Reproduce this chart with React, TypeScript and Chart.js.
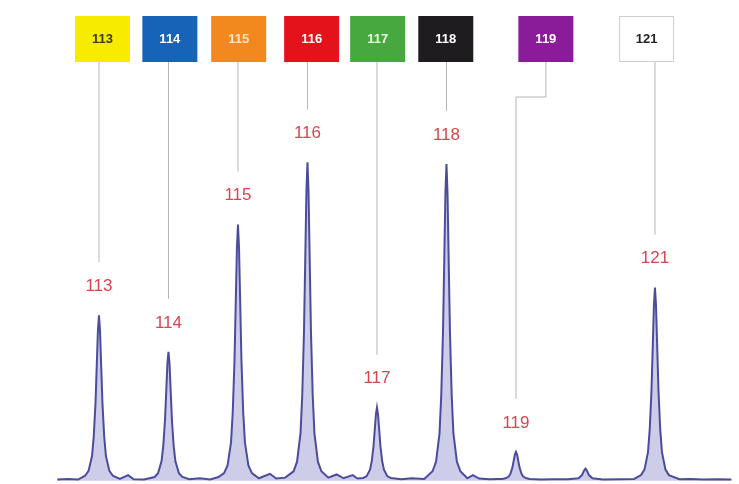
import React, { useEffect, useRef } from "react";
import { Chart, registerables } from "chart.js";

Chart.register(...registerables);

// Spectrum profile (m/z, relative intensity)
const mzValues = [
  112.4, 112.55, 112.7,
  112.8, 112.85, 112.9, 112.925, 112.95, 112.97, 112.985, 113, 113.015, 113.03, 113.05, 113.075, 113.1, 113.15, 113.2,
  113.3, 113.42, 113.5, 113.65,
  113.8, 113.85, 113.9, 113.925, 113.95, 113.97, 113.985, 114, 114.015, 114.03, 114.05, 114.075, 114.1, 114.15, 114.2,
  114.3, 114.45, 114.6, 114.72,
  114.8, 114.85, 114.9, 114.925, 114.95, 114.97, 114.985, 115, 115.015, 115.03, 115.05, 115.075, 115.1, 115.15, 115.2,
  115.3, 115.46, 115.55, 115.68,
  115.8, 115.85, 115.9, 115.925, 115.95, 115.97, 115.985, 116, 116.015, 116.03, 116.05, 116.075, 116.1, 116.15, 116.2,
  116.3, 116.42, 116.52, 116.65, 116.72,
  116.8, 116.85, 116.9, 116.925, 116.95, 116.97, 116.985, 117, 117.015, 117.03, 117.05, 117.075, 117.1, 117.15, 117.2,
  117.35, 117.5, 117.68,
  117.8, 117.85, 117.9, 117.925, 117.95, 117.97, 117.985, 118, 118.015, 118.03, 118.05, 118.075, 118.1, 118.15, 118.2,
  118.3, 118.38, 118.47, 118.62, 118.74,
  118.8, 118.85, 118.9, 118.925, 118.95, 118.97, 118.985, 119, 119.015, 119.03, 119.05, 119.075, 119.1, 119.15, 119.2,
  119.35, 119.55, 119.75,
  119.9, 119.95, 119.98, 120, 120.02, 120.05, 120.1,
  120.25, 120.5, 120.7,
  120.8, 120.85, 120.9, 120.925, 120.95, 120.97, 120.985, 121, 121.015, 121.03, 121.05, 121.075, 121.1, 121.15, 121.2,
  121.35, 121.5, 121.7, 121.9, 122.1,
];
const intensityValues = [
  0.4, 0.6, 0.4,
  1.6, 3.1, 7.8, 14, 24.4, 37.4, 47.3, 52, 47.3, 37.4, 24.4, 14, 7.8, 3.1, 1.6,
  0.6, 1.8, 0.5, 0.4,
  1.2, 2.4, 6.1, 10.9, 19, 29.2, 36.9, 40.5, 36.9, 29.2, 19, 10.9, 6.1, 2.4, 1.2,
  0.5, 0.8, 0.4, 1.2,
  2.4, 4.8, 12.1, 21.7, 37.8, 58, 73.3, 80.5, 73.3, 58, 37.8, 21.7, 12.1, 4.8, 2.4,
  0.8, 2.2, 0.7, 1.0,
  3, 6, 15, 27, 47, 72, 91, 100, 91, 72, 47, 27, 15, 6, 3,
  1.0, 2.0, 0.8, 1.8, 0.7,
  0.9, 1.4, 3.5, 6.2, 10.8, 16.6, 20.9, 23, 20.9, 16.6, 10.8, 6.2, 3.5, 1.4, 0.9,
  0.5, 0.8, 0.6,
  3, 6, 14.9, 26.9, 46.8, 71.6, 90.5, 99.5, 90.5, 71.6, 46.8, 26.9, 14.9, 6, 3,
  0.8, 1.8, 0.7, 0.5, 0.6,
  0.6, 0.8, 1.4, 2.5, 4.3, 6.6, 8.3, 9.1, 8.3, 6.6, 4.3, 2.5, 1.4, 0.8, 0.6,
  0.4, 0.5, 0.5,
  0.8, 1.8, 3.2, 3.8, 3.2, 1.8, 0.8,
  0.4, 0.5, 0.6,
  1.8, 3.6, 9.1, 16.4, 28.5, 43.7, 55.2, 60.7, 55.2, 43.7, 28.5, 16.4, 9.1, 3.6, 1.8,
  0.5, 0.6, 0.4, 0.5, 0.4,
];

// Reporter channels
const channelLabels = ["113", "114", "115", "116", "117", "118", "119", "121"];
const channelMz = [113, 114, 115, 116, 117, 118, 119, 121];
const channelHeights = [52, 40.5, 80.5, 100, 23, 99.5, 9.1, 60.7];
const channelColors = ["#f7ec00", "#1763b8", "#f2891e", "#e3131c", "#46a83e", "#1e1c1e", "#8b1c99", "#ffffff"];
const channelTextColors = ["#3a3a10", "#ffffff", "#fde6c8", "#ffffff", "#e8f7e0", "#ffffff", "#ffffff", "#222222"];

// Box anchor positions (m/z units) for the legend boxes across the top
const boxAnchorMz = [113.05, 114.02, 115.01, 116.06, 117.01, 117.99, 119.43, 120.88];

const overlayPlugin = {
  id: "reporterOverlay",
  afterDatasetsDraw(chart: any) {
    const { ctx, scales } = chart;
    const xs = scales.x;
    const ys = scales.y;
    const boxTop = 16;
    const boxH = 46;
    const boxW = 55;
    const boxBottom = boxTop + boxH;
    ctx.save();
    channelLabels.forEach((lab, i) => {
      const px = xs.getPixelForValue(channelMz[i]);
      const py = ys.getPixelForValue(channelHeights[i]);
      const ly = py - 29;
      const bx = xs.getPixelForValue(boxAnchorMz[i]);
      // connector
      ctx.strokeStyle = "#b4b4b4";
      ctx.lineWidth = 1;
      ctx.beginPath();
      if (Math.abs(bx - px) > 12) {
        ctx.moveTo(bx, boxBottom);
        ctx.lineTo(bx, 97);
        ctx.lineTo(px, 97);
        ctx.lineTo(px, ly - 24);
      } else {
        ctx.moveTo(px, boxBottom);
        ctx.lineTo(px, ly - 24);
      }
      ctx.stroke();
      // box
      ctx.fillStyle = channelColors[i];
      ctx.fillRect(bx - boxW / 2, boxTop, boxW, boxH);
      if (channelColors[i] === "#ffffff") {
        ctx.strokeStyle = "#cfcfcf";
        ctx.strokeRect(bx - boxW / 2 + 0.5, boxTop + 0.5, boxW - 1, boxH - 1);
      }
      ctx.fillStyle = channelTextColors[i];
      ctx.font = "bold 13px 'Liberation Sans', Arial, sans-serif";
      ctx.textAlign = "center";
      ctx.textBaseline = "middle";
      ctx.fillText(lab, bx, boxTop + boxH / 2);
      // peak label
      ctx.fillStyle = "#d8454d";
      ctx.font = "17px 'Liberation Sans', Arial, sans-serif";
      ctx.fillText(lab, px, ly);
    });
    ctx.restore();
  },
};

export default function App() {
  const ref = useRef<HTMLCanvasElement | null>(null);
  useEffect(() => {
    if (!ref.current) return;
    const points = mzValues.map((m, i) => ({ x: m, y: intensityValues[i] }));
    const chart = new Chart(ref.current, {
      type: "line",
      data: {
        datasets: [
          {
            data: points,
            borderColor: "#4c4c9c",
            borderWidth: 2,
            backgroundColor: "rgba(135,135,205,0.42)",
            fill: "origin",
            pointRadius: 0,
            tension: 0,
          },
        ],
      },
      options: {
        animation: false,
        responsive: false,
        maintainAspectRatio: false,
        layout: { padding: 0 },
        plugins: { legend: { display: false }, tooltip: { enabled: false } },
        scales: {
          x: { type: "linear", min: 111.576, max: 122.209, display: false },
          y: { min: -1, max: 151, display: false },
        },
      },
      plugins: [overlayPlugin],
    });
    return () => chart.destroy();
  }, []);
  return (
    <div style={{ position: "absolute", left: 0, top: 0, width: 739, height: 484, background: "#fff" }}>
      <canvas ref={ref} width={739} height={484} />
    </div>
  );
}
